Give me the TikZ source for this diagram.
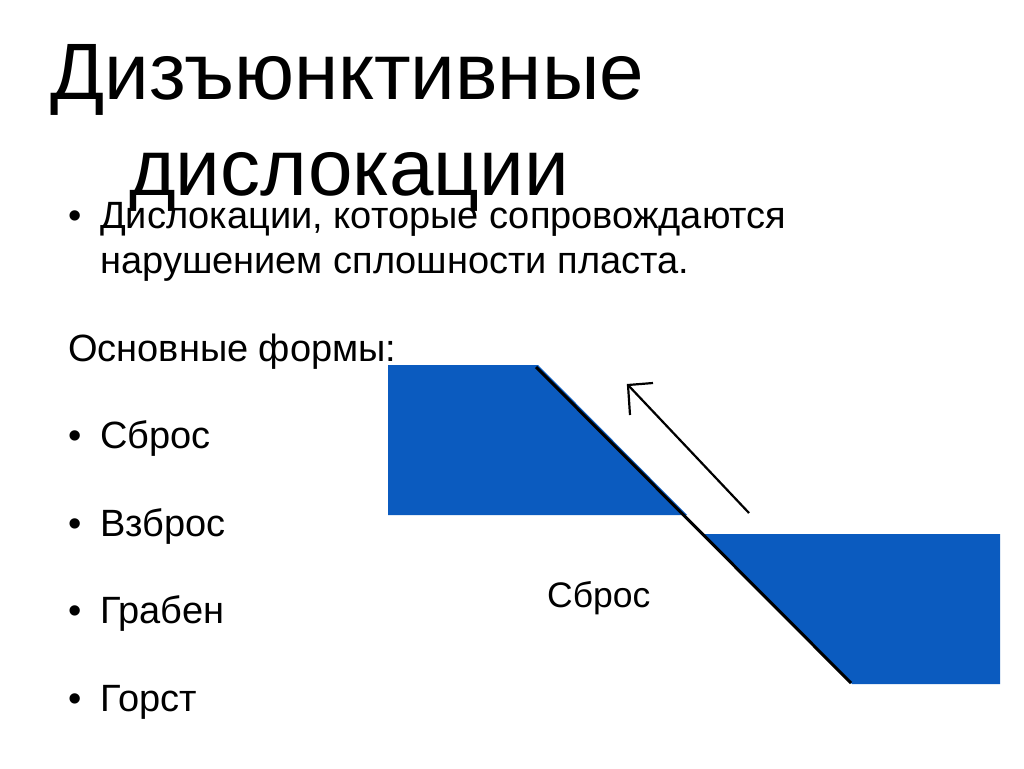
\documentclass[tikz,border=0pt]{standalone}
\usepackage{fontspec}
\setmainfont{Liberation Sans}
\definecolor{blk}{HTML}{0B5BBF}
\tikzset{txt/.style={anchor=base west,inner sep=0pt,font=\fontsize{38pt}{38pt}\selectfont},
lbl/.style={anchor=base west,inner sep=0pt,font=\fontsize{35.5pt}{35.5pt}\selectfont},
ttl/.style={anchor=base west,inner sep=0pt,font=\fontsize{80pt}{80pt}\selectfont}}
\begin{document}
\begin{tikzpicture}[x=1pt,y=-1pt]
\useasboundingbox (0,0) rectangle (1024,768);
\fill[white] (0,0) rectangle (1024,768);
\fill[blk] (388,365) -- (538,365) -- (687,515) -- (388,515) -- cycle;
\fill[blk] (703,534) -- (1000,534) -- (1000,684) -- (852,684) -- cycle;
\node[ttl] (t1) at (50,99) {Дизъюнктивные};
\node[ttl] (t2) at (129,195) {дислокации};
\node[txt] (b1) at (68,228) {•};
\node[txt] (l1) at (100,228) {Дислокации, которые сопровождаются};
\node[txt] (l2) at (100,273) {нарушением сплошности пласта.};
\node[txt] (l3) at (68,361) {Основные формы:};
\node[txt] (b2) at (68,448) {•};
\node[txt] (l4) at (100,448) {Сброс};
\node[txt] (b3) at (68,536) {•};
\node[txt] (l5) at (100,536) {Взброс};
\node[txt] (b4) at (68,623) {•};
\node[txt] (l6) at (100,623) {Грабен};
\node[txt] (b5) at (68,711) {•};
\node[txt] (l7) at (100,711) {Горст};
\node[lbl] (c) at (547,607) {Сброс};
\coordinate (a1) at (536,367);
\coordinate (a2) at (851,683);
\draw[line width=3pt,black] (a1) -- (a2);
\coordinate (s) at (749,513);
\coordinate (e) at (628,385);
\coordinate (h1) at (653,383);
\coordinate (h2) at (630,415);
\draw[line width=2.2pt] (s) -- (e);
\draw[line width=2.2pt] (h1) -- (e) -- (h2);
\end{tikzpicture}
\end{document}
